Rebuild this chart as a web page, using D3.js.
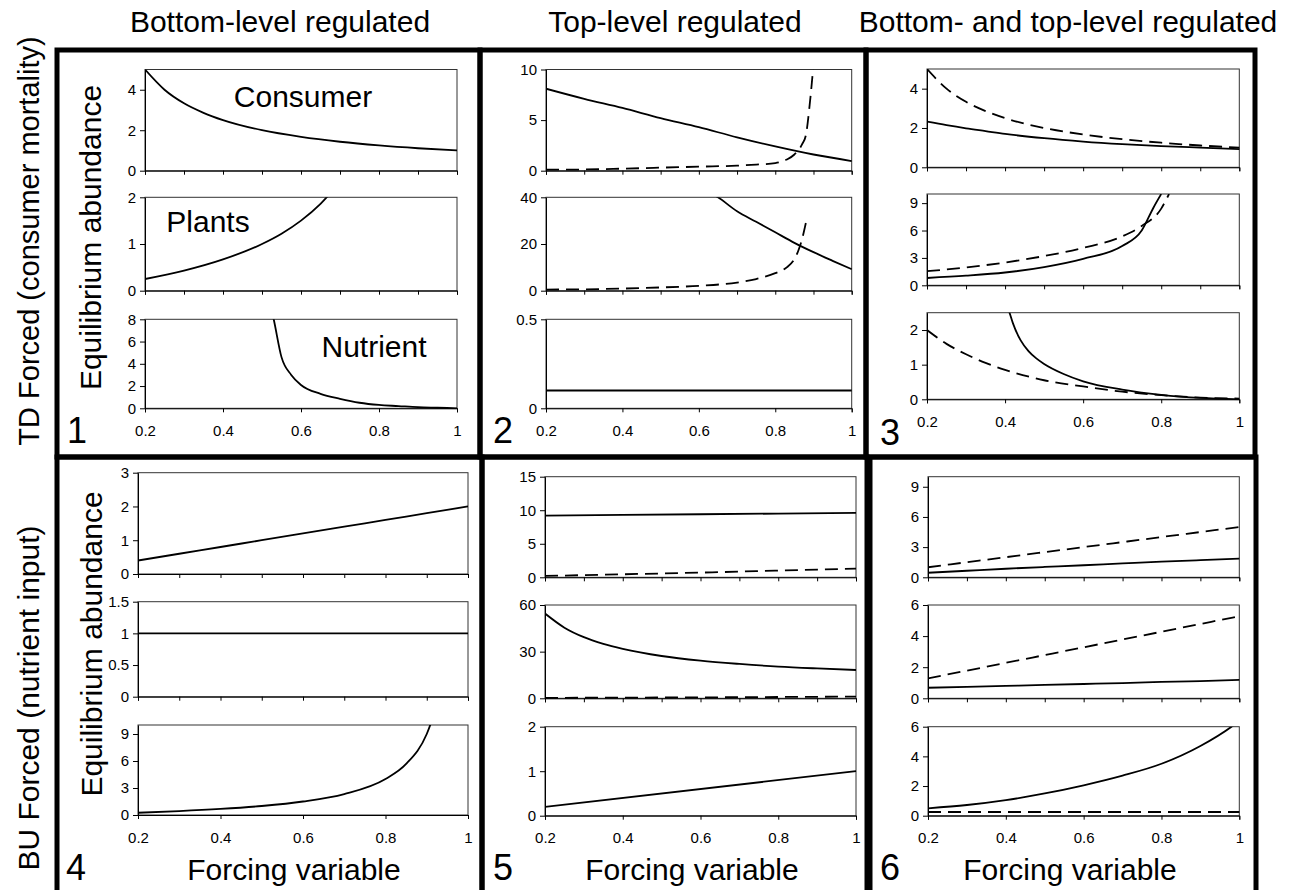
<!DOCTYPE html>
<html>
<head>
<meta charset="utf-8">
<script src="https://cdn.jsdelivr.net/npm/d3@7"></script>
<style>
  body { margin: 0; background: #fff; }
  svg text { font-family: 'Liberation Sans', Arial, Helvetica, sans-serif; fill: #000; }
</style>
</head>
<body>
<svg id="chart" width="1300" height="890"></svg>
<script>
// ---- data ----
var colHeaders = ["Bottom-level regulated", "Top-level regulated", "Bottom- and top-level regulated"];
var rowLabels = ["TD Forced (consumer mortality)", "BU Forced (nutrient input)"];
var trophicNames = ["Consumer", "Plants", "Nutrient"];
var xLabelTicks = [0.2, 0.4, 0.6, 0.8, 1];
var xMinorTicks = [0.2, 0.3, 0.4, 0.5, 0.6, 0.7, 0.8, 0.9, 1];
var xCoarse = [0.2, 0.3, 0.4, 0.5, 0.6, 0.7, 0.8, 0.9, 1.0];

// panel 1
var p1ConsX = [0.2, 0.25, 0.3, 0.35, 0.4, 0.5, 0.6, 0.7, 0.8, 0.9, 1.0];
var p1ConsY = [5.0, 4.0, 3.33, 2.86, 2.5, 2.0, 1.67, 1.43, 1.25, 1.11, 1.0];
var p1PlantX = [0.2, 0.3, 0.4, 0.5, 0.55, 0.6, 0.65, 0.7];
var p1PlantY = [0.25, 0.43, 0.67, 1.0, 1.22, 1.5, 1.86, 2.33];
var p1NutX = [0.52, 0.53, 0.55, 0.575, 0.6, 0.65, 0.7, 0.75, 0.8, 0.85, 0.9, 0.95, 1.0];
var p1NutY = [9.5, 8.0, 4.6, 3.0, 2.1, 1.3, 0.85, 0.5, 0.3, 0.2, 0.1, 0.05, 0.0];

// panel 2
var p2ConsSolidY = [8.1, 7.1, 6.2, 5.2, 4.3, 3.3, 2.4, 1.6, 0.95];
var p2ConsDashX = [0.2, 0.3, 0.4, 0.5, 0.6, 0.7, 0.75, 0.8, 0.83, 0.85, 0.87, 0.88, 0.89, 0.9];
var p2ConsDashY = [0.1, 0.12, 0.2, 0.3, 0.4, 0.5, 0.6, 0.75, 1.1, 1.6, 2.6, 3.5, 6.5, 10.5];
var p2PlantSolidX = [0.6, 0.65, 0.7, 0.75, 0.8, 0.85, 0.9, 0.95, 1.0];
var p2PlantSolidY = [44, 40, 34, 29.5, 25, 20.5, 16.5, 12.8, 9.2];
var p2PlantDashX = [0.2, 0.3, 0.4, 0.5, 0.6, 0.7, 0.75, 0.8, 0.83, 0.85, 0.86, 0.87, 0.88];
var p2PlantDashY = [0.5, 0.6, 0.9, 1.4, 2.1, 3.5, 5, 7.5, 10, 13.5, 17, 22, 29];
var p2NutX = [0.2, 1.0];
var p2NutY = [0.1, 0.1];

// panel 3
var p3ConsX = [0.2, 0.25, 0.3, 0.35, 0.4, 0.5, 0.6, 0.7, 0.8, 0.9, 1.0];
var p3ConsDashY = [5.0, 4.0, 3.33, 2.86, 2.5, 2.0, 1.67, 1.43, 1.25, 1.11, 1.0];
var p3ConsSolidY = [2.32, 2.14, 1.98, 1.84, 1.7, 1.48, 1.31, 1.18, 1.08, 1.0, 0.92];
var p3PlantDashX = [0.2, 0.3, 0.4, 0.5, 0.6, 0.7, 0.75, 0.8, 0.82];
var p3PlantDashY = [1.55, 1.95, 2.5, 3.2, 4.1, 5.35, 6.5, 8.4, 10];
var p3PlantSolidX = [0.2, 0.3, 0.4, 0.5, 0.6, 0.7, 0.75, 0.78, 0.8];
var p3PlantSolidY = [0.8, 1.05, 1.4, 2.0, 2.9, 4.3, 6.0, 8.5, 10];
var p3NutDashX = [0.2, 0.25, 0.3, 0.35, 0.4, 0.5, 0.6, 0.7, 0.8, 0.9, 1.0];
var p3NutDashY = [2.0, 1.6, 1.3, 1.05, 0.85, 0.55, 0.37, 0.22, 0.12, 0.05, 0.02];
var p3NutSolidX = [0.4, 0.41, 0.42, 0.44, 0.46, 0.48, 0.5, 0.55, 0.6, 0.7, 0.8, 0.9, 1.0];
var p3NutSolidY = [2.9, 2.55, 2.2, 1.7, 1.39, 1.18, 1.02, 0.73, 0.52, 0.28, 0.13, 0.04, 0.0];

// panel 4
var p4ConsY = [0.4, 0.6, 0.8, 1.0, 1.2, 1.4, 1.6, 1.8, 2.0];
var p4PlantX = [0.2, 1.0];
var p4PlantY = [1, 1];
var p4NutX = [0.2, 0.3, 0.4, 0.5, 0.6, 0.7, 0.8, 0.85, 0.9, 0.92];
var p4NutY = [0.25, 0.43, 0.67, 1.0, 1.5, 2.33, 4.0, 5.67, 9.0, 11.5];

// panel 5
var p5ConsSolidX = [0.2, 0.6, 1.0];
var p5ConsSolidY = [9.2, 9.4, 9.6];
var p5ConsDashX = [0.2, 0.4, 0.6, 0.8, 1.0];
var p5ConsDashY = [0.2, 0.45, 0.7, 1.0, 1.3];
var p5PlantSolidX = [0.2, 0.25, 0.3, 0.35, 0.4, 0.5, 0.6, 0.7, 0.8, 0.9, 1.0];
var p5PlantSolidY = [54.5, 45.4, 39.3, 35, 31.8, 27.2, 24.2, 22.1, 20.4, 19.2, 18.2];
var p5PlantDashX = [0.2, 0.6, 1.0];
var p5PlantDashY = [0.3, 0.6, 1.1];
var p5NutX = [0.2, 1.0];
var p5NutY = [0.2, 1.0];

// panel 6
var p6ConsDashY = [1.0, 1.5, 2.0, 2.5, 3.0, 3.5, 4.0, 4.5, 5.0];
var p6ConsSolidY = [0.45, 0.65, 0.85, 1.03, 1.2, 1.38, 1.55, 1.7, 1.85];
var p6PlantDashY = [1.28, 1.78, 2.28, 2.78, 3.28, 3.78, 4.28, 4.78, 5.28];
var p6PlantSolidY = [0.68, 0.74, 0.8, 0.86, 0.92, 0.98, 1.05, 1.11, 1.18];
var p6NutSolidX = [0.2, 0.3, 0.4, 0.5, 0.6, 0.7, 0.8, 0.9, 0.98, 1.0];
var p6NutSolidY = [0.5, 0.72, 1.05, 1.5, 2.05, 2.7, 3.5, 4.7, 6.0, 6.4];
var p6NutDashX = [0.2, 1.0];
var p6NutDashY = [0.25, 0.25];

// y axis maxima and tick values (consumer, plants, nutrient)
var yMax = [[5, 2, 8], [10, 40, 0.5], [5, 10, 2.5], [3, 1.5, 10], [15, 60, 2], [10, 6, 6]];
var yTicks = [
  [[0, 2, 4], [0, 1, 2], [0, 2, 4, 6, 8]],
  [[0, 5, 10], [0, 20, 40], [0, 0.5]],
  [[0, 2, 4], [0, 3, 6, 9], [0, 1, 2]],
  [[0, 1, 2, 3], [0, 0.5, 1, 1.5], [0, 3, 6, 9]],
  [[0, 5, 10, 15], [0, 30, 60], [0, 1, 2]],
  [[0, 3, 6, 9], [0, 2, 4, 6], [0, 2, 4, 6]]
];

function s(xs, ys, dashed) {
  return { pts: xs.map(function (x, i) { return [x, ys[i]]; }), dashed: dashed };
}

var series = [
  [[s(p1ConsX, p1ConsY)], [s(p1PlantX, p1PlantY)], [s(p1NutX, p1NutY)]],
  [[s(xCoarse, p2ConsSolidY), s(p2ConsDashX, p2ConsDashY, true)],
   [s(p2PlantSolidX, p2PlantSolidY), s(p2PlantDashX, p2PlantDashY, true)],
   [s(p2NutX, p2NutY)]],
  [[s(p3ConsX, p3ConsSolidY), s(p3ConsX, p3ConsDashY, true)],
   [s(p3PlantSolidX, p3PlantSolidY), s(p3PlantDashX, p3PlantDashY, true)],
   [s(p3NutSolidX, p3NutSolidY), s(p3NutDashX, p3NutDashY, true)]],
  [[s(xCoarse, p4ConsY)], [s(p4PlantX, p4PlantY)], [s(p4NutX, p4NutY)]],
  [[s(p5ConsSolidX, p5ConsSolidY), s(p5ConsDashX, p5ConsDashY, true)],
   [s(p5PlantSolidX, p5PlantSolidY), s(p5PlantDashX, p5PlantDashY, true)],
   [s(p5NutX, p5NutY)]],
  [[s(xCoarse, p6ConsSolidY), s(xCoarse, p6ConsDashY, true)],
   [s(xCoarse, p6PlantSolidY), s(xCoarse, p6PlantDashY, true)],
   [s(p6NutSolidX, p6NutSolidY), s(p6NutDashX, p6NutDashY, true)]]
];

// ---- layout ----
var layout = [
  { box: [57, 50, 480, 457], x: [145, 457], y: [[170.7, 69.5], [290.7, 197.3], [408.3, 319.3]], num: [67, 443] },
  { box: [480, 50, 866, 457], x: [546, 851.7], y: [[170.7, 69.5], [290.7, 197.3], [408.3, 319.3]], num: [493, 443] },
  { box: [866, 50, 1255, 457], x: [927, 1239.3], y: [[167.3, 69], [285.3, 194], [399.3, 312.7]], num: [880, 445] },
  { box: [57, 457, 482, 900], x: [138, 468], y: [[574, 472.7], [696.7, 601.7], [815, 725]], num: [66, 880] },
  { box: [482, 457, 867, 900], x: [545, 856], y: [[577.3, 476.7], [698.3, 605], [815.7, 726.7]], num: [493, 880] },
  { box: [870, 457, 1256, 900], x: [928, 1239.3], y: [[577.3, 476.7], [698.3, 605], [815.7, 726.7]], num: [880, 880] }
];

var svg = d3.select("#chart");
var fmt = d3.format("~g");
var defs = svg.append("defs");

layout.forEach(function (L, p) {
  var g = svg.append("g");
  var x = d3.scaleLinear().domain([0.2, 1]).range(L.x);

  L.y.forEach(function (yr, k) {
    var y = d3.scaleLinear().domain([0, yMax[p][k]]).range(yr);
    var sub = g.append("g");

    // frame
    sub.append("rect")
      .attr("x", L.x[0]).attr("y", yr[1])
      .attr("width", L.x[1] - L.x[0]).attr("height", yr[0] - yr[1])
      .attr("fill", "none").attr("stroke", "#333").attr("stroke-width", 1);

    var clipId = "clip" + p + "_" + k;
    defs.append("clipPath").attr("id", clipId)
      .append("rect")
      .attr("x", L.x[0]).attr("y", yr[1])
      .attr("width", L.x[1] - L.x[0] + 1).attr("height", yr[0] - yr[1] + 1);

    var line = d3.line()
      .x(function (d) { return x(d[0]); })
      .y(function (d) { return y(d[1]); })
      .curve(d3.curveMonotoneX);

    sub.append("g").attr("clip-path", "url(#" + clipId + ")")
      .selectAll("path")
      .data(series[p][k])
      .enter().append("path")
      .attr("d", function (d) { return line(d.pts); })
      .attr("fill", "none")
      .attr("stroke", "#000")
      .attr("stroke-width", 1.8)
      .attr("stroke-dasharray", function (d) { return d.dashed ? "13,7" : null; });

    // axes
    var yAxis = d3.axisLeft(y).tickValues(yTicks[p][k]).tickFormat(fmt)
      .tickSize(5).tickSizeOuter(0).tickPadding(4);
    var ya = sub.append("g").attr("transform", "translate(" + L.x[0] + ",0)").call(yAxis);

    var xAxis = d3.axisBottom(x).tickSizeOuter(0).tickSize(4);
    if (k === 2) {
      xAxis.tickValues(xLabelTicks).tickFormat(fmt).tickPadding(13);
    } else {
      xAxis.tickValues(xMinorTicks).tickFormat("");
    }
    var xa = sub.append("g").attr("transform", "translate(0," + yr[0] + ")").call(xAxis);

    [ya, xa].forEach(function (a) {
      a.selectAll("path, line").attr("stroke", "#000").attr("stroke-width", 1);
      a.selectAll("text").attr("font-size", 15).attr("fill", "#111")
        .style("font-family", "'Liberation Sans', Arial, sans-serif");
    });
  });

  // panel frame
  svg.append("rect")
    .attr("x", L.box[0]).attr("y", L.box[1])
    .attr("width", L.box[2] - L.box[0]).attr("height", L.box[3] - L.box[1])
    .attr("fill", "none").attr("stroke", "#000").attr("stroke-width", 5);

  // panel number
  svg.append("text")
    .attr("x", L.num[0]).attr("y", L.num[1])
    .attr("font-size", 36)
    .text(p + 1);
});

// column headers
var headerX = [280, 675, 1068];
colHeaders.forEach(function (t, i) {
  svg.append("text")
    .attr("x", headerX[i]).attr("y", 32)
    .attr("text-anchor", "middle")
    .attr("font-size", 30)
    .text(t);
});

// row labels
var rowY = [241, 698];
rowLabels.forEach(function (t, i) {
  svg.append("text")
    .attr("transform", "translate(39," + rowY[i] + ") rotate(-90)")
    .attr("text-anchor", "middle")
    .attr("font-size", i === 0 ? 29 : 30)
    .text(t);
});

// y axis titles
[[101, 237.5], [102, 644]].forEach(function (pos) {
  svg.append("text")
    .attr("transform", "translate(" + pos[0] + "," + pos[1] + ") rotate(-90)")
    .attr("text-anchor", "middle")
    .attr("font-size", 30)
    .text("Equilibrium abundance");
});

// x axis titles
[294, 692, 1070].forEach(function (cx) {
  svg.append("text")
    .attr("x", cx).attr("y", 880)
    .attr("text-anchor", "middle")
    .attr("font-size", 30)
    .text("Forcing variable");
});

// trophic level labels in panel 1
var nameX = [303, 208, 374];
var nameY = [107, 232, 357];
trophicNames.forEach(function (t, i) {
  svg.append("text")
    .attr("x", nameX[i]).attr("y", nameY[i])
    .attr("text-anchor", "middle")
    .attr("font-size", 30)
    .text(t);
});
</script>
</body>
</html>
